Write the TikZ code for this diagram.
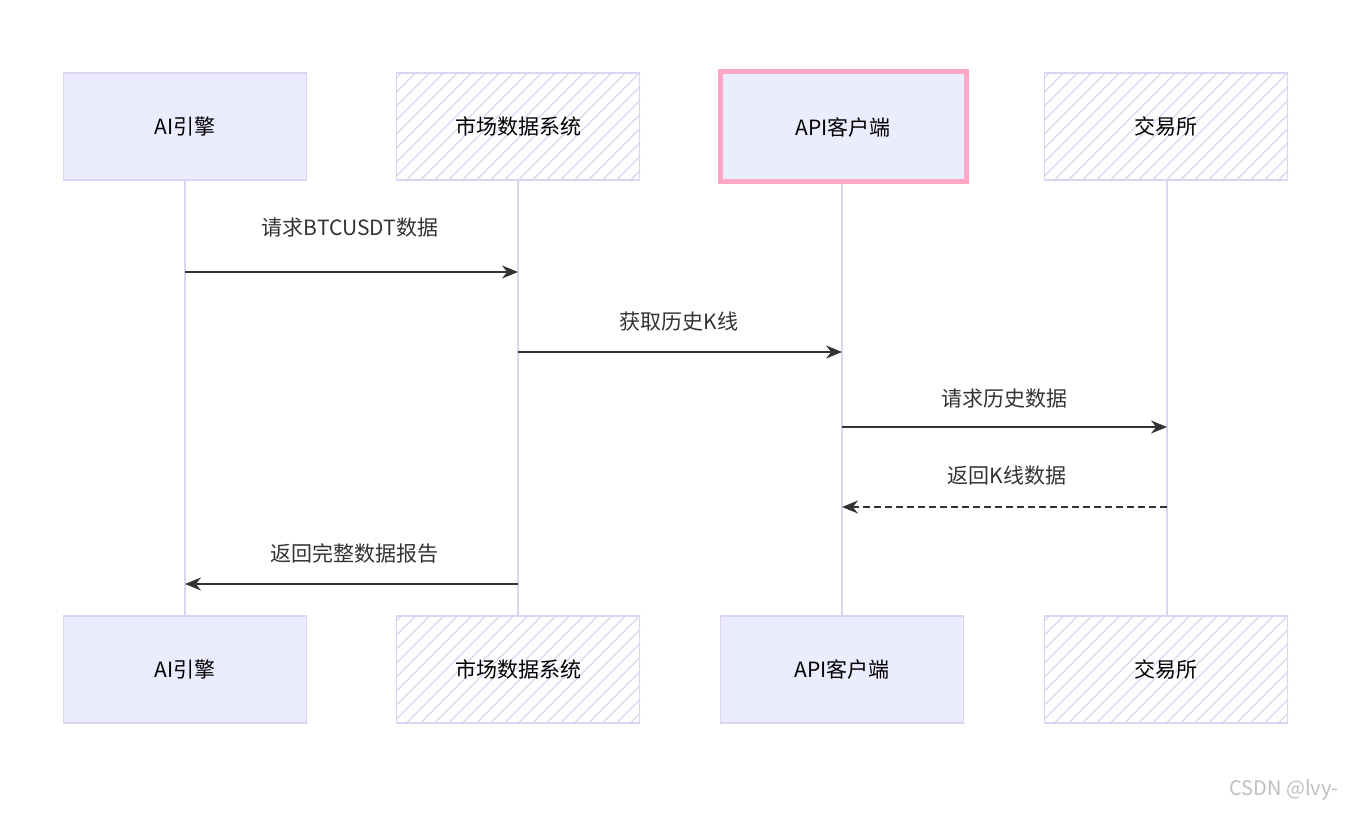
\documentclass[tikz,border=0pt]{standalone}
\usepackage{fontspec}
\setmainfont{Noto Sans CJK SC}
\usetikzlibrary{arrows.meta}
\definecolor{boxfill}{HTML}{ECECFF}
\definecolor{boxline}{HTML}{DCD5F2}
\definecolor{pinkline}{HTML}{FFA8C5}
\definecolor{msg}{HTML}{333333}
\tikzset{
 actor/.style={draw=boxline,line width=1.5pt,fill=boxfill,minimum width=243pt,minimum height=107pt,font=\fontsize{21}{24}\selectfont,text=black},
 hatched/.style={actor,fill=none},
 hatchline/.style={draw=boxline,line width=1.2pt},
 life/.style={draw=boxline,line width=2pt},
 msgline/.style={draw=msg,line width=1.6pt,-{Stealth[length=16pt,width=13pt]}},
 lbl/.style={font=\fontsize{21}{24}\selectfont,text=msg}
}
\newcommand{\hatchbox}[1]{%
 \begin{scope}
 \clip (#1.south west) rectangle (#1.north east);
 \foreach \k in {-130,-116,...,260} {
   \draw[hatchline] ($(#1.south west)+(\k,0)$) -- ++(120,-120);
 }
 \end{scope}}
\usetikzlibrary{calc}
\begin{document}
\begin{tikzpicture}[x=1pt,y=-1pt]
\useasboundingbox (0,0) rectangle (1356,813);
\draw[life] (185,180) -- (185,617);
\draw[life] (518,180) -- (518,617);
\draw[life] (842,183) -- (842,617);
\draw[life] (1167,180) -- (1167,617);
\node[actor] (a1) at (185,126.5) {AI引擎};
\node[hatched,fill=white] (b1) at (518,126.5) {};
\node[actor,draw=pinkline,line width=5pt,minimum width=246pt,minimum height=110pt] (c1) at (843,127) {API客户端};
\node[hatched,fill=white] (d1) at (1166,126.5) {};
\node[actor] (a2) at (185,669.5) {AI引擎};
\node[hatched,fill=white] (b2) at (518,669.5) {};
\node[actor] (c2) at (842,669.5) {API客户端};
\node[hatched,fill=white] (d2) at (1166,669.5) {};
\hatchbox{b1}\hatchbox{d1}\hatchbox{b2}\hatchbox{d2}
\node[hatched] (b1t) at (518,126.5) {市场数据系统};
\node[hatched] (d1t) at (1166,126.5) {交易所};
\node[hatched] (b2t) at (518,669.5) {市场数据系统};
\node[hatched] (d2t) at (1166,669.5) {交易所};
\coordinate (m1s) at (185,272); \coordinate (m1e) at (518,272);
\coordinate (m2s) at (518,352); \coordinate (m2e) at (842,352);
\coordinate (m3s) at (842,427); \coordinate (m3e) at (1167,427);
\coordinate (m4s) at (1167,507); \coordinate (m4e) at (842,507);
\coordinate (m5s) at (518,584); \coordinate (m5e) at (185,584);
\draw[msgline] (m1s) -- (m1e);
\draw[msgline] (m2s) -- (m2e);
\draw[msgline] (m3s) -- (m3e);
\draw[msgline,dash pattern=on 7pt off 4pt] (m4s) -- (m4e);
\draw[msgline] (m5s) -- (m5e);
\node[lbl] (l1) at (350,228) {请求BTCUSDT数据};
\node[lbl] (l2) at (679,322) {获取历史K线};
\node[lbl] (l3) at (1004,399) {请求历史数据};
\node[lbl] (l4) at (1007,476) {返回K线数据};
\node[lbl] (l5) at (354,554) {返回完整数据报告};
\node[font=\fontsize{20}{22}\selectfont,text=gray!50] (wm) at (1284,790) {CSDN @lvy-};
\end{tikzpicture}
\end{document}
